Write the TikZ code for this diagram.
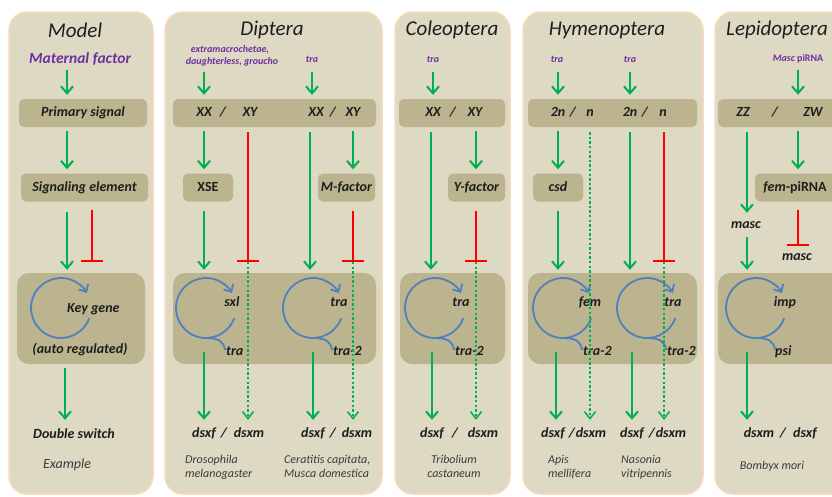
\documentclass[tikz,border=0pt]{standalone}
\usepackage{fontspec}
\setmainfont{Carlito}
\usetikzlibrary{arrows.meta}
\definecolor{panelc}{HTML}{DDD9C3}
\definecolor{borderc}{HTML}{F8D9BC}
\definecolor{boxc}{HTML}{BBB48F}
\definecolor{gc}{HTML}{00B050}
\definecolor{pc}{HTML}{7030A0}
\definecolor{bc}{HTML}{4F81BD}
\definecolor{rc}{HTML}{FF0000}
\definecolor{tc}{HTML}{1E1E1E}
\definecolor{sc}{HTML}{3C3C3C}
\begin{document}
\begin{tikzpicture}[x=1pt,y=-1pt,
 panel/.style={draw=borderc, line width=1.5pt, fill=panelc, rounded corners=18pt},
 gbox/.style={fill=boxc, rounded corners=5pt},
 bigbox/.style={fill=boxc, rounded corners=12pt},
 ttl/.style={font=\fontsize{21}{24}\selectfont\itshape, text=tc},
 lab/.style={font=\fontsize{14}{16}\selectfont\bfseries\itshape, text=tc, inner sep=0pt, text height=10pt, text depth=3pt},
 plab/.style={font=\fontsize{10}{12}\selectfont\bfseries\itshape, text=pc, inner sep=0pt, text height=7pt, text depth=2pt},
 spec/.style={font=\fontsize{12}{14}\selectfont\itshape, text=sc, inner sep=0pt},
 ga/.style={draw=gc, line width=2pt, -{Straight Barb[length=7pt,width=12pt]}},
 gd/.style={draw=gc, line width=2.3pt, dash pattern=on 2.3pt off 2.3pt, -{Straight Barb[length=7pt,width=11pt,line width=1.5pt]}},
 rb/.style={draw=rc, line width=2pt, -{Bar[width=22pt]}},
 lp/.style={draw=bc, line width=1.8pt},
 gloop/.pic={\draw[lp,-{Straight Barb[length=6pt,width=11pt]}] (20:30) arc[start angle=20,end angle=330,radius=30];},
 qloop/.pic={\draw[lp,-{Straight Barb[length=6pt,width=11pt]}] (20:30) arc[start angle=20,end angle=330,radius=30];
             \draw[lp] (0,30) .. controls (12,30) and (18,33) .. (19,42);},
]
\useasboundingbox (0,0) rectangle (832,496);
\fill[white] (0,0) rectangle (832,496);

% ---------- panels
\draw[panel] (9,12) rectangle (153,494);
\draw[panel] (165,12) rectangle (382,494);
\draw[panel] (395,12) rectangle (510,494);
\draw[panel] (523,12) rectangle (703,494);
\draw[panel] (715,12) rectangle (870,494);

% ---------- Model
\node[ttl] (t0) at (75,30) {Model};
\node[plab, font=\fontsize{15.5}{18}\selectfont\bfseries\itshape, text height=11pt, text depth=3.5pt] (mf) at (80,60) {Maternal factor};
\node[gbox, lab, minimum width=128pt, minimum height=28pt] (ps) at (83,113) {Primary signal};
\node[gbox, lab, minimum width=127pt, minimum height=28pt] (se) at (84.5,187.5) {Signaling element};
\node[bigbox, minimum width=128pt, minimum height=91pt] (kb) at (81,318.5) {};
\pic at (61,308) {gloop};
\node[lab, anchor=west] (kg) at (67,309) {Key gene};
\node[lab] (au) at (80,350) {(auto regulated)};
\node[lab] (ds) at (74,435) {Double switch};
\node[spec, font=\fontsize{14}{16}\selectfont\itshape] (ex) at (67,465) {Example};
\coordinate (cm) at (67,0);
\coordinate (tm) at (92,262);
\coordinate (cmb) at (65,0);
\draw[ga, shorten <=3pt, shorten >=4pt] (mf.south -| cm) -- (ps.north -| cm);
\draw[ga, shorten <=4pt, shorten >=4pt] (ps.south -| cm) -- (se.north -| cm);
\draw[ga, shorten <=10pt, shorten >=3pt] (se.south -| cm) -- (kb.north -| cm);
\draw[rb, shorten <=8pt] (se.south -| tm) -- (tm);
\draw[ga, shorten <=4pt, shorten >=8.5pt] (kb.south -| cmb) -- (ds.north -| cmb);

% ---------- Diptera
\node[ttl] (t1) at (272,30) {Diptera};
\node[plab] (p1a) at (230,50) {extramacrochetae,};
\node[plab] (p1b) at (232,62) {daughterless, groucho};
\node[plab] (p2) at (312,60) {tra};
\node[gbox, minimum width=203pt, minimum height=28pt] (r1) at (274.5,113) {};
\node[lab] (xa) at (204,113) {XX};
\node[lab] (sa) at (223,113) {/};
\node[lab] (ya) at (250,113) {XY};
\node[lab] (xb) at (316,113) {XX};
\node[lab] (sb) at (333,113) {/};
\node[lab] (yb) at (353,113) {XY};
\node[gbox, lab, font=\fontsize{14}{16}\selectfont\bfseries, minimum width=50pt, minimum height=28pt] (xse) at (208,187.5) {XSE};
\node[gbox, lab, minimum width=57pt, minimum height=28pt] (mfa) at (346.5,187.5) {M-factor};
\node[bigbox, minimum width=203pt, minimum height=91pt] (k1) at (274.5,318.5) {};
\pic at (206,308) {qloop};
\pic at (313,308) {qloop};
\node[lab] (l1a) at (232,303) {sxl};
\node[lab, anchor=west] (l1b) at (226,352) {tra};
\node[lab] (l2a) at (339,303) {tra};
\node[lab, anchor=west] (l2b) at (333,352) {tra-2};
\node[lab] (d1f) at (204,434) {dsxf};
\node[lab] (d1s) at (224,434) {/};
\node[lab] (d1m) at (249,434) {dsxm};
\node[lab] (d2f) at (313,434) {dsxf};
\node[lab] (d2s) at (333,434) {/};
\node[lab] (d2m) at (357,434) {dsxm};
\node[spec, anchor=north west, align=left] (sp1) at (185,455) {Drosophila\\melanogaster};
\node[spec, anchor=north west, align=left] (sp2) at (284,455) {Ceratitis capitata,\\Musca domestica};
\coordinate (t1a) at (248,262);
\coordinate (c310) at (310,0);
\coordinate (t1b) at (353,262);
\draw[ga, shorten <=5.5pt, shorten >=4pt] (p1b.south -| xa) -- (r1.north -| xa);
\draw[ga, shorten <=7.5pt, shorten >=4pt] (p2.south) -- (r1.north -| p2);
\draw[ga, shorten <=4pt, shorten >=4pt] (r1.south -| xa) -- (xse.north -| xa);
\draw[ga, shorten <=9pt, shorten >=3pt] (xse.south -| xa) -- (k1.north -| xa);
\draw[rb, shorten <=5pt] (r1.south -| t1a) -- (t1a);
\draw[gd, shorten >=7.5pt] (t1a) -- (t1a |- d1m.north);
\draw[ga, shorten <=5pt, shorten >=3pt] (r1.south -| c310) -- (k1.north -| c310);
\draw[ga, shorten <=4pt, shorten >=4pt] (r1.south -| t1b) -- (mfa.north -| t1b);
\draw[rb, shorten <=9pt] (mfa.south -| t1b) -- (t1b);
\draw[gd, shorten >=7.5pt] (t1b) -- (t1b |- d2m.north);
\draw[ga, shorten >=7.5pt] (d1f |- l1b) -- (d1f.north);
\draw[ga, shorten >=7.5pt] (d2f |- l2b) -- (d2f.north);

% ---------- Coleoptera
\node[ttl] (t2) at (452,30) {Coleoptera};
\node[plab] (p3) at (433,60) {tra};
\node[gbox, minimum width=106pt, minimum height=28pt] (r3) at (452,113) {};
\node[lab] (xc) at (433,113) {XX};
\node[lab] (sc3) at (453,113) {/};
\node[lab] (yc) at (475,113) {XY};
\node[gbox, lab, minimum width=57pt, minimum height=28pt] (yf) at (476.5,187.5) {Y-factor};
\node[bigbox, minimum width=105pt, minimum height=91pt] (k3) at (452.5,318.5) {};
\pic at (435,308) {qloop};
\node[lab] (l3a) at (461,303) {tra};
\node[lab, anchor=west] (l3b) at (455,352) {tra-2};
\node[lab] (d3f) at (432,434) {dsxf};
\node[lab] (d3s) at (455,434) {/};
\node[lab] (d3m) at (483,434) {dsxm};
\node[spec, anchor=north, align=center] (sp3) at (454,455) {Tribolium\\castaneum};
\coordinate (c431) at (431,0);
\coordinate (t3) at (476,262);
\draw[ga, shorten <=7.5pt, shorten >=4pt] (p3.south) -- (r3.north -| p3);
\draw[ga, shorten <=5pt, shorten >=3pt] (r3.south -| c431) -- (k3.north -| c431);
\draw[ga, shorten <=4pt, shorten >=4pt] (r3.south -| t3) -- (yf.north -| t3);
\draw[rb, shorten <=9pt] (yf.south -| t3) -- (t3);
\draw[gd, shorten >=7.5pt] (t3) -- (t3 |- d3m.north);
\draw[ga, shorten >=7.5pt] (d3f |- l3b) -- (d3f.north);

% ---------- Hymenoptera
\node[ttl] (t3t) at (607,30) {Hymenoptera};
\node[plab] (p4) at (557,60) {tra};
\node[plab] (p5) at (630,60) {tra};
\node[gbox, minimum width=169pt, minimum height=28pt] (r4) at (612.5,113) {};
\node[lab] (h1) at (558,113) {2n};
\node[lab] (h2) at (573,113) {/};
\node[lab] (h3) at (590,113) {n};
\node[lab] (h4) at (630,113) {2n};
\node[lab] (h5) at (645,113) {/};
\node[lab] (h6) at (663,113) {n};
\node[gbox, lab, minimum width=50pt, minimum height=28pt] (csd) at (558,187.5) {csd};
\node[bigbox, minimum width=169pt, minimum height=91pt] (k4) at (612.5,318.5) {};
\pic at (563,308) {qloop};
\pic at (647,308) {qloop};
\node[lab] (l4a) at (590,303) {fem};
\node[lab, anchor=west] (l4b) at (583,352) {tra-2};
\node[lab] (l5a) at (673,303) {tra};
\node[lab, anchor=west] (l5b) at (667,352) {tra-2};
\node[lab] (d4f) at (553,434) {dsxf};
\node[lab] (d4s) at (572,434) {/};
\node[lab] (d4m) at (591,434) {dsxm};
\node[lab] (d5f) at (632,434) {dsxf};
\node[lab] (d5s) at (652,434) {/};
\node[lab] (d5m) at (671,434) {dsxm};
\node[spec, anchor=north west, align=left] (sp4) at (548,455) {Apis\\mellifera};
\node[spec, anchor=north west, align=left] (sp5) at (621,455) {Nasonia\\vitripennis};
\coordinate (c555) at (556,0);
\coordinate (t5) at (664,262);
\draw[ga, shorten <=7.5pt, shorten >=4pt] (p4.south -| h1) -- (r4.north -| h1);
\draw[ga, shorten <=7.5pt, shorten >=4pt] (p5.south -| h4) -- (r4.north -| h4);
\draw[ga, shorten <=4pt, shorten >=4pt] (r4.south -| h1) -- (csd.north -| h1);
\draw[ga, shorten <=9pt, shorten >=3pt] (csd.south -| h1) -- (k4.north -| h1);
\draw[gd, shorten <=5pt, shorten >=7.5pt] (r4.south -| h3) -- (h3 |- d4m.north);
\draw[ga, shorten <=5pt, shorten >=3pt] (r4.south -| h4) -- (k4.north -| h4);
\draw[rb, shorten <=5pt] (r4.south -| t5) -- (t5);
\draw[gd, shorten >=7.5pt] (t5) -- (t5 |- d5m.north);
\draw[ga, shorten >=7.5pt] (c555 |- l4b) -- (c555 |- d4f.north);
\draw[ga, shorten >=7.5pt] (d5f |- l5b) -- (d5f.north);

% ---------- Lepidoptera
\node[ttl] (t4) at (777,30) {Lepidoptera};
\node[plab] (p6) at (798,59) {Masc \upshape piRNA};
\node[gbox, minimum width=152pt, minimum height=28pt] (r6) at (794,113) {};
\node[lab] (z1) at (743,113) {ZZ};
\node[lab] (z2) at (775,113) {/};
\node[lab] (z3) at (813,113) {ZW};
\node[gbox, minimum width=115pt, minimum height=28pt] (fp) at (812.5,187.5) {};
\node[lab] (fpt) at (795,187.5) {fem\upshape -piRNA};
\node[lab] (m1) at (746,225) {masc};
\node[lab] (m2) at (797,257) {masc};
\node[bigbox, minimum width=152pt, minimum height=91pt] (k6) at (794,318.5) {};
\pic at (756,308) {qloop};
\node[lab] (l6a) at (785,303) {imp};
\node[lab, anchor=west] (l6b) at (775,352) {psi};
\node[lab] (d6m) at (759,434) {dsxm};
\node[lab] (d6s) at (783,434) {/};
\node[lab] (d6f) at (805,434) {dsxf};
\node[spec] (sp6) at (772,466) {Bombyx mori};
\coordinate (cl1) at (747,0);
\coordinate (cl2) at (798,0);
\coordinate (t6) at (798,246);
\draw[ga, shorten <=6.5pt, shorten >=4pt] (p6.south -| cl2) -- (r6.north -| cl2);
\draw[ga, shorten <=5pt, shorten >=5.5pt] (r6.south -| cl1) -- (m1.north -| cl1);
\draw[ga, shorten <=4pt, shorten >=4pt] (r6.south -| cl2) -- (fp.north -| cl2);
\draw[rb, shorten <=8pt] (fp.south -| cl2) -- (t6);
\draw[ga, shorten <=5.5pt, shorten >=3pt] (m1.south -| cl1) -- (k6.north -| cl1);
\draw[ga, shorten >=7.5pt] (cl1 |- l6b) -- (cl1 |- d6m.north);
\end{tikzpicture}
\end{document}
